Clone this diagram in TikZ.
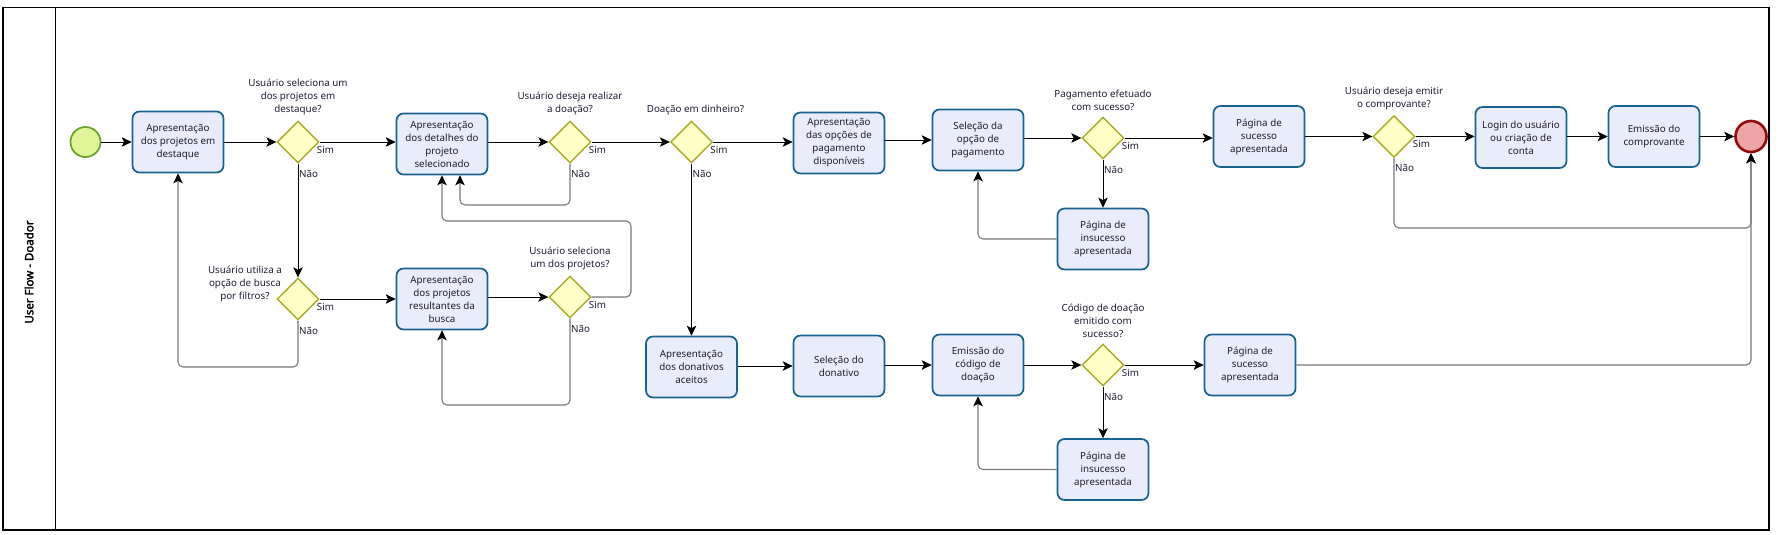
\documentclass[tikz,border=0pt]{standalone}
\usepackage{fontspec}
\setmainfont{Noto Sans}[AutoFakeBold=2.2]
\usetikzlibrary{shapes.geometric,arrows.meta,calc}
\definecolor{taskfill}{RGB}{233,237,251}
\definecolor{taskborder}{RGB}{24,98,146}
\definecolor{gatefill}{RGB}{255,255,200}
\definecolor{gateborder}{RGB}{170,170,40}
\definecolor{startfill}{RGB}{224,245,150}
\definecolor{startborder}{RGB}{104,160,40}
\definecolor{endfill}{RGB}{235,165,165}
\definecolor{endborder}{RGB}{150,10,10}
\definecolor{txt}{RGB}{35,28,50}
\definecolor{loopgray}{RGB}{120,120,120}
\begin{document}
\begin{tikzpicture}[x=1pt,y=-1pt,
  txtfont/.style={font=\fontsize{9.8}{13}\selectfont, text=txt},
  task/.style={draw=taskborder, fill=taskfill, line width=1.7pt, rounded corners=7pt,
    minimum width=91pt, minimum height=61pt, align=center, inner sep=0pt, txtfont},
  gate/.style={diamond, draw=gateborder, fill=gatefill, line width=1.4pt,
    minimum width=42pt, minimum height=42pt, inner sep=0pt},
  startev/.style={circle, draw=startborder, fill=startfill, line width=1.7pt, minimum size=30pt, inner sep=0pt},
  endev/.style={circle, draw=endborder, fill=endfill, line width=2.6pt, minimum size=31pt, inner sep=0pt},
  qlbl/.style={txtfont, align=center, inner sep=1pt},
  lbl/.style={txtfont, inner sep=1pt},
  flow/.style={draw=black, line width=0.9pt, -{Stealth[length=10pt,width=9.5pt,inset=2.5pt]}},
  backflow/.style={draw=loopgray, line width=1.1pt, rounded corners=5pt,
    -{Stealth[length=10pt,width=9.5pt,inset=2.5pt,color=black]}}
]
\useasboundingbox (0,0) rectangle (1783,535);
% frame and lane
\draw[line width=1.2pt] (3,7.5) rectangle (1769,530);
\draw[line width=1.2pt] (55.5,7.5) -- (55.5,530);
\node[rotate=90, font=\bfseries\fontsize{11.5}{13}\selectfont, text=black] (lane) at (29,272) {User Flow - Doador};

% upper row
\node[startev] (start) at (85.5,142) {};
\node[task] (a) at (178,142) {Apresentação\\dos projetos em\\destaque};
\node[gate] (d1) at (298,142) {};
\node[task] (b) at (442,144) {Apresentação\\dos detalhes do\\projeto\\selecionado};
\node[gate] (d2) at (570,142) {};
\node[gate] (d3) at (691.5,142) {};
\node[task] (c) at (839,143) {Apresentação\\das opções de\\pagamento\\disponíveis};
\node[task] (d) at (978,140) {Seleção da\\opção de\\pagamento};
\node[gate] (d4) at (1103,138) {};
\node[task] (e) at (1103,239) {Página de\\insucesso\\apresentada};
\node[task] (f) at (1259,136.5) {Página de\\sucesso\\apresentada};
\node[gate] (d5) at (1394,136.5) {};
\node[task] (g) at (1521,137.5) {Login do usuário\\ou criação de\\conta};
\node[task] (h) at (1654,136.5) {Emissão do\\comprovante};
\node[endev] (end) at (1751,136.5) {};

% lower rows
\node[gate] (d6) at (298,299) {};
\node[task] (i) at (442,299) {Apresentação\\dos projetos\\resultantes da\\busca};
\node[gate] (d7) at (570,297) {};
\node[task] (j) at (691.5,367) {Apresentação\\dos donativos\\aceitos};
\node[task] (k) at (839,366) {Seleção do\\donativo};
\node[task] (l) at (978,365) {Emissão do\\código de\\doação};
\node[gate] (d8) at (1103,365) {};
\node[task] (m) at (1103,469.5) {Página de\\insucesso\\apresentada};
\node[task] (n) at (1250,365) {Página de\\sucesso\\apresentada};

% question labels
\node[qlbl, anchor=south] (q1) at ($(d1.north)+(0,-4)$) {Usuário seleciona um\\dos projetos em\\destaque?};
\node[qlbl, anchor=south] (q2) at ($(d2.north)+(0,-4)$) {Usuário deseja realizar\\a doação?};
\node[qlbl, anchor=south] (q3) at ($(d3.north)+(4,-4)$) {Doação em dinheiro?};
\node[qlbl, anchor=south] (q4) at ($(d4.north)+(0,-4)$) {Pagamento efetuado\\com sucesso?};
\node[qlbl, anchor=south] (q5) at ($(d5.north)+(0,-4)$) {Usuário deseja emitir\\o comprovante?};
\node[qlbl, anchor=east] (q6) at (283,284) {Usuário utiliza a\\opção de busca\\por filtros?};
\node[qlbl, anchor=south] (q7) at ($(d7.north)+(0,-4)$) {Usuário seleciona\\um dos projetos?};
\node[qlbl, anchor=south] (q8) at ($(d8.north)+(0,-4)$) {Código de doação\\emitido com\\sucesso?};

% Sim / Nao labels
\foreach \g in {d1,d2,d3,d4,d5,d6,d7,d8}{
  \node[lbl, anchor=north west] at ($(\g.east)+(-4,3)$) {Sim};
  \node[lbl, anchor=north west] at ($(\g.south)+(0,5)$) {Não};
}

% bend coordinates
\coordinate (y1) at (0,367);
\coordinate (y2) at (0,205);
\coordinate (x2) at (460,0);
\coordinate (x3) at (631,0);
\coordinate (y3) at (0,221);
\coordinate (y4) at (0,405);
\coordinate (y5) at (0,228);

% forward flows
\draw[flow] (start) -- (a);
\draw[flow] (a.east) -- (d1.west);
\draw[flow] (d1.east) -- (d1.east -| b.west);
\draw[flow] (b.east |- d2.west) -- (d2.west);
\draw[flow] (d2.east) -- (d3.west);
\draw[flow] (d3.east) -- (d3.east -| c.west);
\draw[flow] (c.east |- d.west) -- (d.west);
\draw[flow] (d.east |- d4.west) -- (d4.west);
\draw[flow] (d4.east) -- (d4.east -| f.west);
\draw[flow] (f.east) -- (d5.west);
\draw[flow] (d5.east) -- (d5.east -| g.west);
\draw[flow] (g.east |- h.west) -- (h.west);
\draw[flow] (h.east) -- (end.west);
\draw[flow] (d1.south) -- (d6.north);
\draw[flow] (d6.east) -- (d6.east -| i.west);
\draw[flow] (i.east |- d7.west) -- (d7.west);
\draw[flow] (d3.south) -- (j.north);
\draw[flow] (d4.south) -- (e.north);
\draw[flow] (j.east |- k.west) -- (k.west);
\draw[flow] (k.east |- l.west) -- (l.west);
\draw[flow] (l.east) -- (d8.west);
\draw[flow] (d8.east) -- (d8.east -| n.west);
\draw[flow] (d8.south) -- (m.north);

% return flows
\draw[backflow] (d6.south) |- (a.south |- y1) -- (a.south);
\draw[backflow] (d2.south) |- (x2 |- y2) -- (x2 |- b.south);
\draw[backflow] (d7.east) -- (x3 |- d7.east) |- (b.south |- y3) -- (b.south);
\draw[backflow] (d7.south) |- (i.south |- y4) -- (i.south);
\draw[backflow] (e.west) -| (d.south);
\draw[backflow] (m.west) -| (l.south);
\draw[backflow] (d5.south) |- (end.south |- y5) -- (end.south);
\draw[backflow] (n.east) -| (end.south);
\end{tikzpicture}
\end{document}
